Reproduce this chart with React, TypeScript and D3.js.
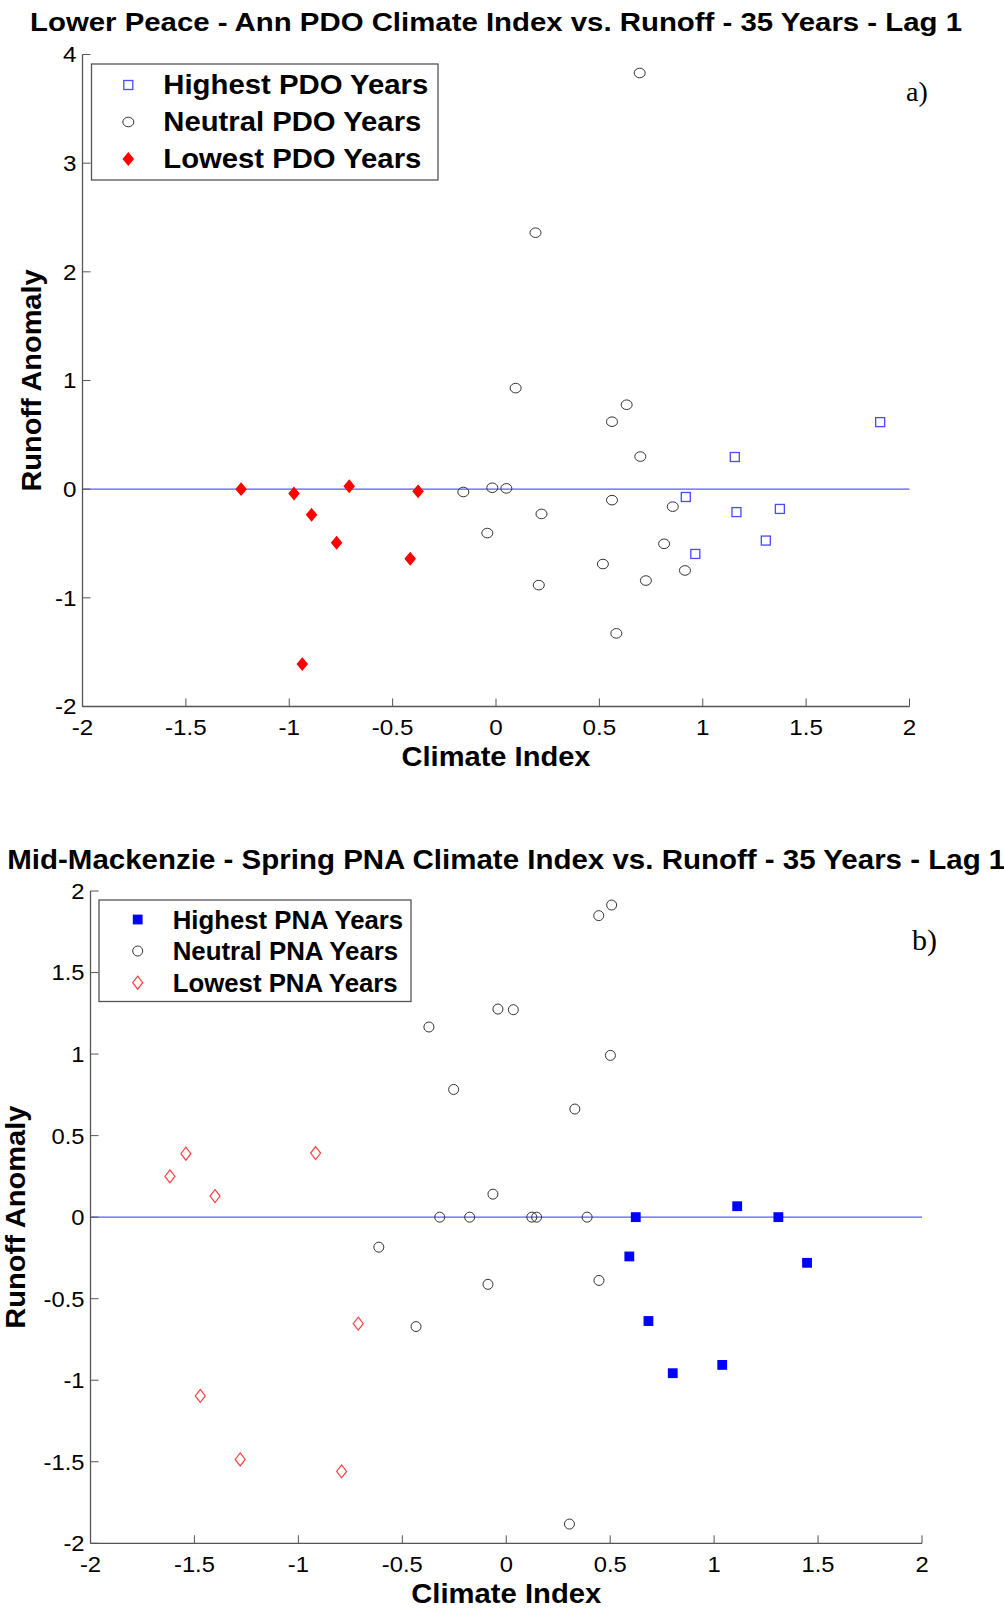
import React from 'react';
import * as d3 from 'd3';

// ---- data ----
// a) Lower Peace - Ann PDO
const pdoHighest = [[1.155, 0.296], [1.858, 0.617], [0.918, -0.072], [1.163, -0.211], [1.373, -0.182], [1.305, -0.473], [0.964, -0.596]];
const pdoNeutral = [[-0.158, -0.026], [-0.018, 0.013], [0.05, 0.007], [-0.042, -0.404], [0.095, 0.93], [0.695, 3.83], [0.191, 2.36], [0.632, 0.777], [0.561, 0.621], [0.698, 0.3], [0.561, -0.101], [0.22, -0.228], [0.855, -0.161], [0.813, -0.503], [0.517, -0.689], [0.914, -0.748], [0.725, -0.841], [0.207, -0.883], [0.582, -1.327]];
const pdoLowest = [[-1.233, 0], [-0.977, -0.04], [-0.892, -0.236], [-0.771, -0.493], [-0.71, 0.027], [-0.377, -0.02], [-0.415, -0.64], [-0.937, -1.61]];

// b) Mid-Mackenzie - Spring PNA
const pnaHighest = [[0.623, 0], [1.111, 0.067], [1.309, 0], [0.592, -0.241], [1.447, -0.28], [0.684, -0.637], [0.801, -0.957], [1.039, -0.906]];
const pnaNeutral = [[-0.372, 1.166], [-0.253, 0.783], [-0.04, 1.276], [0.034, 1.272], [-0.064, 0.141], [-0.32, 0], [-0.176, 0], [0.123, 0], [0.146, 0], [0.389, 0], [0.445, 1.849], [0.507, 1.914], [0.501, 0.992], [0.33, 0.663], [-0.613, -0.184], [-0.088, -0.412], [0.446, -0.388], [-0.434, -0.671], [0.304, -1.882]];
const pnaLowest = [[-1.618, 0.25], [-1.541, 0.389], [-1.401, 0.129], [-0.917, 0.393], [-0.712, -0.653], [-1.472, -1.096], [-1.28, -1.486], [-0.792, -1.559]];

const xTicks = [-2, -1.5, -1, -0.5, 0, 0.5, 1, 1.5, 2];
const aYTicks = [-2, -1, 0, 1, 2, 3, 4];
const bYTicks = [-2, -1.5, -1, -0.5, 0, 0.5, 1, 1.5, 2];

const titleA = 'Lower Peace - Ann PDO Climate Index vs. Runoff - 35 Years - Lag 1';
const titleB = 'Mid-Mackenzie - Spring PNA Climate Index vs. Runoff - 35 Years - Lag 1';
const legendA = ['Highest PDO Years', 'Neutral PDO Years', 'Lowest PDO Years'];
const legendB = ['Highest PNA Years', 'Neutral PNA Years', 'Lowest PNA Years'];

const FONT = 'Arial, "Liberation Sans", Helvetica, sans-serif';
const AXIS = '#555';

const fmt = v => String(v);

// marker shapes
const Square = ({ x, y, s, fill, stroke }) =>
  <rect x={x - s / 2} y={y - s / 2} width={s} height={s} fill={fill} stroke={stroke} strokeWidth={1.3} />;
const Circle = ({ x, y, rx = 5, ry = 5 }) =>
  <ellipse cx={x} cy={y} rx={rx} ry={ry} fill="none" stroke="#333" strokeWidth={1} />;
const Diamond = ({ x, y, w, h, fill, stroke }) =>
  <path d={`M${x},${y - h / 2}L${x + w / 2},${y}L${x},${y + h / 2}L${x - w / 2},${y}Z`} fill={fill} stroke={stroke} strokeWidth={1.2} />;

function Panel({ box, yTicks, yDomain, title, titleY, titleSize, titleLen, tag, tagPos, legend, legendBox, markers, series, tick, labels }) {
  const x = d3.scaleLinear().domain([-2, 2]).range([box.l, box.r]);
  const y = d3.scaleLinear().domain(yDomain).range([box.b, box.t]);
  const cx = x(0);
  return (
    <g fontFamily={FONT}>
      <text x={(box.l + box.r) / 2} y={titleY} fontSize={titleSize} fontWeight="bold" textAnchor="middle"
        textLength={titleLen} lengthAdjust="spacingAndGlyphs">{title}</text>

      {/* zero line */}
      <line x1={x(-2)} x2={x(2)} y1={y(0)} y2={y(0)} stroke="#5a5aff" strokeWidth={1.3} />

      {/* axes, MATLAB style: left + bottom, ticks inward */}
      <line x1={box.l} x2={box.l} y1={box.t} y2={box.b} stroke={AXIS} strokeWidth={1.3} />
      <line x1={box.l} x2={box.r} y1={box.b} y2={box.b} stroke={AXIS} strokeWidth={1.3} />
      {yTicks.map(t => (
        <g key={'y' + t}>
          <line x1={box.l} x2={box.l + 8} y1={y(t)} y2={y(t)} stroke={AXIS} strokeWidth={1} />
          <text transform={`translate(${box.l - 6},${y(t) + tick.size * 0.36}) scale(${tick.sx},1)`}
            fontSize={tick.size} textAnchor="end">{fmt(t)}</text>
        </g>
      ))}
      {xTicks.map(t => (
        <g key={'x' + t}>
          <line x1={x(t)} x2={x(t)} y1={box.b} y2={box.b - 8} stroke={AXIS} strokeWidth={1} />
          <text transform={`translate(${x(t)},${box.b + tick.dy}) scale(${tick.sx},1)`}
            fontSize={tick.size} textAnchor="middle">{fmt(t)}</text>
        </g>
      ))}

      <text x={cx} y={labels.xY} fontSize={labels.size} fontWeight="bold" textAnchor="middle"
        textLength={labels.xLen} lengthAdjust="spacingAndGlyphs">Climate Index</text>
      <text transform={`translate(${labels.yX},${(box.t + box.b) / 2 + labels.yShift}) rotate(-90)`} fontSize={labels.size}
        fontWeight="bold" textAnchor="middle" textLength={labels.yLen} lengthAdjust="spacingAndGlyphs">Runoff Anomaly</text>

      <text x={tagPos[0]} y={tagPos[1]} fontSize={tagPos[2]} fontFamily='"Liberation Serif", "Times New Roman", serif'>{tag}</text>

      {/* data */}
      {series.map((s, i) => s.map((d, j) => (
        <React.Fragment key={i + '-' + j}>{markers[i](x(d[0]), y(d[1]))}</React.Fragment>
      )))}

      {/* legend */}
      <rect x={legendBox.l} y={legendBox.t} width={legendBox.r - legendBox.l} height={legendBox.b - legendBox.t}
        fill="white" stroke={AXIS} strokeWidth={1.3} />
      {legend.map((name, i) => (
        <g key={name}>
          {markers[i](legendBox.mx, legendBox.rows[i] - legendBox.off)}
          <text x={legendBox.tx} y={legendBox.rows[i]} fontSize={legendBox.size} fontWeight="bold"
            textLength={legendBox.lens[i]} lengthAdjust="spacingAndGlyphs">{name}</text>
        </g>
      ))}
    </g>
  );
}

export default function App() {
  const markersA = [
    (x, y) => <Square x={x} y={y} s={9} fill="none" stroke="#4a4aff" />,
    (x, y) => <Circle x={x} y={y} rx={5.5} ry={4.8} />,
    (x, y) => <Diamond x={x} y={y} w={10} h={12} fill="#ff0000" stroke="#ff0000" />,
  ];
  const markersB = [
    (x, y) => <Square x={x} y={y} s={8.5} fill="#0000ff" stroke="#0000ff" />,
    (x, y) => <Circle x={x} y={y} />,
    (x, y) => <Diamond x={x} y={y} w={10} h={13} fill="none" stroke="#ff4040" />,
  ];

  return (
    <div style={{ position: 'absolute', left: 0, top: 0 }}>
      <svg width={1004} height={1608} style={{ display: 'block', background: '#fff' }}>
        <Panel
          box={{ l: 82.5, r: 909.5, t: 54.5, b: 706.5 }}
          yTicks={aYTicks} yDomain={[-2, 4]}
          title={titleA} titleY={31} titleSize={26} titleLen={932}
          tag="a)" tagPos={[906, 101, 28]}
          legend={legendA}
          legendBox={{ l: 91.5, r: 438, t: 64, b: 180, mx: 128.3, tx: 163.3, rows: [94, 131, 168], off: 9, size: 27, lens: [265, 258, 258] }}
          markers={markersA}
          series={[pdoHighest, pdoNeutral, pdoLowest]}
          tick={{ size: 22, sx: 1.1, dy: 28 }}
          labels={{ size: 27, xY: 766, xLen: 189, yX: 41, yShift: 0, yLen: 222 }}
        />
        <Panel
          box={{ l: 90.5, r: 922, t: 891, b: 1543.3 }}
          yTicks={bYTicks} yDomain={[-2, 2]}
          title={titleB} titleY={869} titleSize={27} titleLen={998}
          tag="b)" tagPos={[912, 950, 30]}
          legend={legendB}
          legendBox={{ l: 99, r: 411, t: 900, b: 1001.5, mx: 137.7, tx: 172.7, rows: [928.5, 960, 991.7], off: 9, size: 25, lens: [230.5, 225.5, 225] }}
          markers={markersB}
          series={[pnaHighest, pnaNeutral, pnaLowest]}
          tick={{ size: 22, sx: 1.08, dy: 29 }}
          labels={{ size: 27, xY: 1603, xLen: 190, yX: 25, yShift: 0, yLen: 223 }}
        />
      </svg>
    </div>
  );
}
